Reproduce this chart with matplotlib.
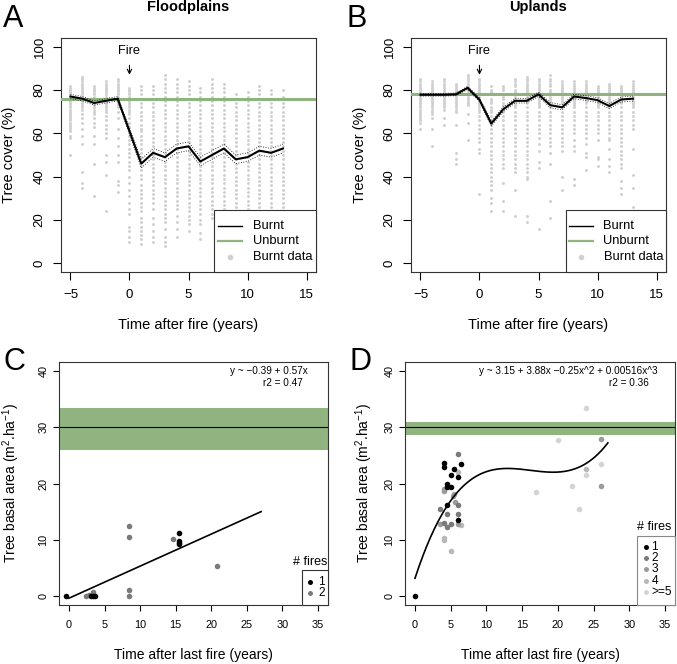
import numpy as np
import matplotlib
matplotlib.use('Agg')
import matplotlib.pyplot as plt
from matplotlib.patches import Rectangle
from matplotlib.lines import Line2D
from matplotlib.transforms import Affine2D

plt.rcParams['font.family'] = ['Liberation Sans', 'DejaVu Sans']
plt.rcParams['mathtext.fontset'] = 'custom'
plt.rcParams['mathtext.rm'] = 'Liberation Sans'
plt.rcParams['mathtext.it'] = 'Liberation Sans:italic'

# ---------------- data ----------------
years = list(range(-5, 14))

flood_mean = [77, 76, 74, 75, 76, 61, 46, 51, 49, 53, 54, 47, 50, 53, 48, 49, 52, 51, 53]
flood_lo = [76, 75, 73, 74, 75, 59.5, 44, 49, 47, 51, 52, 45, 48, 51, 46, 47, 50, 49, 51]
flood_hi = [78, 77, 75, 76, 77, 62.5, 48, 53, 51, 55, 56, 49, 52, 55, 50, 51, 54, 53, 55]
flood_unburnt = 76

upland_mean = [77.8, 77.8, 77.8, 78, 81, 75.5, 64.5, 71, 75, 75, 78, 73, 72, 77, 76.3, 75.3, 72.6, 75.6, 76]
upland_lo = [77.2, 77.2, 77.2, 77.4, 80.3, 74.6, 63.4, 69.9, 74, 74, 77, 71.8, 70.8, 76, 75.2, 74.2, 71.4, 74.4, 74.9]
upland_hi = [78.4, 78.4, 78.4, 78.6, 81.7, 76.4, 65.6, 72.1, 76, 76, 79, 74.2, 73.2, 78, 77.4, 76.4, 73.8, 76.8, 77.1]
upland_unburnt = 78

flood_dots = [
    "82 81 80 79 78 77 76 75 74 73 72 71 70 69 68 67 66 65 64 63 62 61 59 58 50",
    "86 85 84 83 82 81 80 79 78 77 76 75 74 73 72 71 69 67 65 62 59 55 42 37 35",
    "82 81 80 79 78 77 76 75 74 73 72 71 70 69 67 65 63 59 55 46 31",
    "84 83 82 81 80 79 78 77 76 75 74 73 72 71 70 68 66 64 62 60 58 50 47 41 24",
    "85 84 83 82 81 80 79 78 77 76 75 74 73 72 70 67 62 58 54 50 47 38 36 33",
    "81 80 79 78 77 76 75 74 73 72 71 70 69 67 65 63 61 59 57 55 53 51 49 47 45 43 40 37 34 31 28 25 23 17 15 12 10",
    "82 80 78 76 74 72 70 68 66 64 62 61 59 57 55 53 51 49 47 45 43 41 39 36 34 32 30 28 26 24 21 19 17 15 13 11 9",
    "82 80 78 76 74 72 70 68 66 64 62 60 58 56 54 52 50 48 46 44 42 40 38 36 34 32 30 28 25 21 18 15 12 10",
    "87 85 83 81 79 77 75 73 71 69 67 65 63 61 59 57 55 53 51 49 47 45 43 41 39 37 35 33 31 29 27 25 23 21 19 16 12 10 8",
    "85 83 81 79 77 75 73 71 69 67 65 63 61 59 57 55 53 51 49 47 45 43 41 39 37 35 33 31 29 27 25 22 19 16 12",
    "84 82 80 78 76 74 72 70 68 66 64 62 60 58 56 54 52 50 48 46 44 42 40 38 36 34 32 30 28 26 24 22 20 18 15",
    "81 79 77 75 73 71 69 67 65 63 61 59 57 55 53 51 49 47 45 43 41 39 37 35 33 31 29 27 25 23 20 18 14 11",
    "85 83 81 79 77 75 73 71 69 67 65 63 61 59 57 55 53 51 49 47 45 43 41 39 37 35 33 31 29 27 25 23 21",
    "83 81 79 77 75 73 71 69 67 65 63 61 59 57 55 53 51 49 47 45 43 41 39 37 35 33 31 29 27 25",
    "78 76 74 72 70 68 66 64 62 60 58 56 54 52 50 48 46 44 42 40 38 36 34 32 30 28 26 24 22",
    "79 77 75 73 71 69 67 65 63 61 59 57 55 53 51 49 47 45 43 41 39 37 35 33 31 29 27 25 22 20",
    "82 80 78 76 74 72 70 68 66 64 62 60 58 56 54 52 50 48 46 44 42 40 38 36 34 32 30 28 26",
    "80 78 76 74 72 70 68 66 64 62 60 58 56 54 52 50 48 46 44 42 40 38 36 34 32 30 28 26",
    "80 77 74 72 70 68 66 64 62 60 58 56 54 52 50 48 46 44 42 40 38 36 34 32 30 28 26",
]

upland_dots = [
    "85 84 83 82 81 80 79 78 77 76 75 74 73 72 71 70 69 68 67 66 65 62",
    "84 83 82 81 80 79 78 77 76 75 74 73 72 71 70 69 67 62 54",
    "85 84 83 82 81 80 79 78 77 76 75 74 73 72 71 67 64",
    "83 82 81 80 79 78 77 76 75 74 73 72 71 70 64 51 48 46",
    "87 86 85 84 83 82 81 80 79 78 77 76 75 74 73 69 65 57",
    "85 84 83 82 81 80 79 78 77 76 75 74 73 72 71 70 68 66 64 62 60 58 56 53 51 32",
    "82 80 79 78 76 75 74 72 71 70 68 66 64 62 60 58 56 54 52 50 48 46 44 42 40 38 36 34 30 28 24",
    "82 81 80 78 77 76 74 73 72 70 68 66 64 62 60 58 56 54 52 50 48 46 44 37 29 24",
    "85 84 83 82 80 79 78 77 76 74 73 72 70 68 66 64 62 60 58 56 54 52 50 48 46 44 42 34 22",
    "86 85 84 83 82 81 80 79 78 77 76 75 74 72 70 68 66 64 62 60 58 56 54 52 50 48 46 44 42 40 39 22 19",
    "85 84 83 82 81 80 79 78 77 76 75 74 73 72 70 68 66 64 62 60 58 55 52 47 44 16",
    "87 85 84 83 82 80 79 78 77 76 75 74 72 70 68 66 64 62 60 58 56 54 51 46 29 21",
    "84 83 82 81 80 79 78 77 76 75 74 72 70 68 66 64 62 60 58 56 54 52 40 34",
    "84 83 82 81 80 79 78 77 76 75 74 73 72 70 68 66 64 62 60 57 54 52 39 36",
    "84 83 82 81 80 79 78 77 76 75 74 72 70 68 66 64 62 60 58 55 51 49 43",
    "82 81 80 79 78 77 76 75 74 73 72 70 68 66 64 62 60 57 49 48 45",
    "83 82 81 80 79 78 77 76 75 74 73 72 70 68 66 64 62 60 58 57 53 48 45 42",
    "82 81 80 79 78 77 76 75 74 72 70 68 66 64 62 60 58 56 54 52 50 48 46 44 38 35 32",
    "84 83 82 81 80 79 78 77 76 75 74 73 72 70 68 66 64 62 53 41 35 26",
]

# Panel C (floodplains basal area)
c_fires1_x = [-0.4, 3.1, 3.4, 3.6, 15.4, 15.5, 15.5, 15.5]
c_fires1_y = [0.0, 0.0, 0.0, 0.0, 11.2, 9.8, 9.5, 9.2]
c_fires2_x = [2.4, 2.8, 3.4, 3.4, 8.5, 8.5, 8.5, 8.5, 14.6, 20.8]
c_fires2_y = [0.0, 0.1, 0.3, 0.7, 12.4, 10.5, 1.0, 0.0, 10.1, 5.3]
c_coef = [-0.39, 0.57]
c_band = (26.0, 33.5)

# Panel D (uplands basal area)
d_fires1_x = [0.0, 4.0, 4.0, 5.5, 6.5, 5.0, 6.0, 4.5, 4.5, 5.0, 4.5, 6.0]
d_fires1_y = [0.0, 23.6, 22.9, 22.5, 23.4, 21.6, 21.1, 20.0, 19.3, 19.3, 16.2, 13.6]
d_fires2_x = [6.0, 3.5, 4.5, 6.0, 6.0, 4.0, 5.0, 4.5]
d_fires2_y = [25.3, 15.5, 14.6, 14.6, 16.1, 13.0, 12.8, 12.2]
d_fires3_x = [4.0, 4.0, 5.5, 5.3, 5.6, 3.5, 6.0, 26.0, 26.0]
d_fires3_y = [19.0, 18.7, 18.2, 17.8, 16.8, 12.8, 12.8, 28.0, 19.6]
d_fires4_x = [4.0, 4.0, 5.0, 6.5, 6.0, 24.0]
d_fires4_y = [10.3, 10.0, 8.0, 12.6, 22.1, 22.5]
d_fires5_x = [24.0, 20.0, 26.0, 22.0, 17.0, 23.0, 24.0]
d_fires5_y = [33.5, 27.8, 23.4, 19.6, 18.5, 15.5, 21.6]
d_coef = [3.15, 3.88, -0.25, 0.00516]
d_band = (28.6, 30.9)

fire_labels = ["1", "2", "3", "4", ">=5"]
fire_colors = ["#000000", "#7a7a7a", "#9a9a9a", "#b8b8b8", "#d4d4d4"]

GREEN = '#8fb47f'
DOT = '#d0d0d0'

# ---------------- figure ----------------
W, H = 677, 664
fig = plt.figure(figsize=(W / 100, H / 100), dpi=100)
PX = Affine2D().scale(1.0 / W, -1.0 / H).translate(0, 1) + fig.transFigure


def add_axes_px(l, t, r, b):
    return fig.add_axes([l / W, 1 - b / H, (r - l) / W, (b - t) / H])


def ftext(x, y, s, **kw):
    return fig.text(x, y, s, transform=PX, **kw)


def style(ax, xlim, ylim, xticks, yticks, size, tlen, xpad, ypad):
    ax.set_xlim(xlim)
    ax.set_ylim(ylim)
    ax.set_xticks(xticks)
    ax.set_yticks(yticks)
    ax.tick_params(direction='out', length=tlen, width=0.8, labelsize=size, colors='black')
    ax.tick_params(axis='x', pad=xpad)
    ax.tick_params(axis='y', pad=ypad, labelrotation=90)
    for lab in ax.get_yticklabels():
        lab.set_verticalalignment('center')
    for sp in ax.spines.values():
        sp.set_linewidth(0.8)
        sp.set_color('#333333')


def top_panel(rect, dots, mean, lo, hi, unburnt, title, letter, lx, tx, legend_box, legend_line_x, legend_text_x):
    l, t, r, b = rect
    ax = add_axes_px(l, t, r, b)
    for yr, col in zip(years, dots):
        vals = [float(v) for v in col.split()]
        ax.scatter([yr] * len(vals), vals, s=4.5, color=DOT, linewidths=0, zorder=2)
    ax.axhline(unburnt, color=GREEN, lw=2.2, zorder=3)
    ax.plot(years, lo, color='black', lw=0.6, ls=(0, (1, 2)), zorder=4)
    ax.plot(years, hi, color='black', lw=0.6, ls=(0, (1, 2)), zorder=4)
    ax.plot(years, mean, color='black', lw=1.5, zorder=5)
    ax.annotate('Fire', xy=(0, 87), xytext=(0, 98), ha='center', va='center', fontsize=9.2,
                arrowprops=dict(arrowstyle='->', lw=0.8, color='black', shrinkA=4, shrinkB=0,
                                mutation_scale=8))
    style(ax, (-5.8, 15.8), (-4, 104), [-5, 0, 5, 10, 15], [0, 20, 40, 60, 80, 100], 9.5, 5.5, 7, 5.5)
    ftext((l + r) / 2, 11.5, title, ha='center', va='baseline', fontsize=10.5, fontweight='bold')
    ftext(lx, 26.7, letter, ha='center', va='baseline', fontsize=22)
    ftext(tx, (t + b) / 2, 'Tree cover (%)', ha='center', va='center', rotation=90, fontsize=10.5)
    ftext((l + r) / 2, 325, 'Time after fire (years)', ha='center', va='center', fontsize=10.5)
    # legend
    bx0, by0, bx1, by1 = legend_box
    fig.add_artist(Rectangle((bx0, by0), bx1 - bx0, by1 - by0, transform=PX, fc='white', ec='#333333',
                             lw=0.8, zorder=10))
    x0, x1 = legend_line_x
    rows = [226, 241, 257]
    fig.add_artist(Line2D([x0, x1], [rows[0], rows[0]], transform=PX, color='black', lw=1.0, zorder=11))
    fig.add_artist(Line2D([x0, x1], [rows[1], rows[1]], transform=PX, color=GREEN, lw=1.6, zorder=11))
    fig.add_artist(Line2D([(x0 + x1) / 2], [rows[2]], transform=PX, marker='o', ms=4, mew=0, color=DOT, zorder=11))
    for lab, yy in zip(['Burnt', 'Unburnt', 'Burnt data'], rows):
        ftext(legend_text_x, yy, lab, ha='left', va='center', fontsize=9.3, zorder=12)
    return ax


top_panel((61, 38, 316, 272), flood_dots, flood_mean, flood_lo, flood_hi, flood_unburnt,
          'Floodplains', 'A', 13.5, 9, (214, 210, 316, 272), (218, 242), 253)
top_panel((411, 38, 666, 272), upland_dots, upland_mean, upland_lo, upland_hi, upland_unburnt,
          'Uplands', 'B', 357, 360, (566, 210, 666, 272), (569, 593), 603.5)


def bottom_panel(rect, band, coef, groups, letter, lx, tx, eq1, eq1x, r2, r2x, leg):
    l, t, r, b = rect
    ax = add_axes_px(l, t, r, b)
    ax.axhspan(band[0], band[1], color=GREEN, lw=0, zorder=1)
    ax.axhline(30, color='black', lw=0.8, zorder=2)
    for gx, gy, c in groups:
        ax.scatter(gx, gy, s=16, color=c, linewidths=0, zorder=3)
    xf = np.linspace(0, 27, 200)
    yf = sum(cf * xf ** i for i, cf in enumerate(coef))
    ax.plot(xf, yf, color='black', lw=1.2, zorder=4)
    style(ax, (-1.4, 36.4), (-1.6, 41.6), list(range(0, 40, 5)), [0, 10, 20, 30, 40], 7.8, 4.5, 6, 3)
    ftext(lx, 369.5, letter, ha='center', va='baseline', fontsize=22)
    ftext(tx, (t + b) / 2, 'Tree basal area (m$^2$.ha$^{-1}$)', ha='center', va='center', rotation=90,
          fontsize=10)
    ftext((l + r) / 2, 655, 'Time after last fire (years)', ha='center', va='center', fontsize=10)
    ftext(eq1x, 371, eq1, ha='center', va='center', fontsize=7.2)
    ftext(r2x, 383.5, r2, ha='center', va='center', fontsize=7.2)
    # legend
    (tx0, ty), (bx0, by0, bx1, by1), dotx, textx, rows, n, ec = leg
    ftext(tx0, ty, '# fires', ha='center', va='center', fontsize=9)
    fig.add_artist(Rectangle((bx0, by0), bx1 - bx0, by1 - by0, transform=PX, fc='white', ec=ec,
                             lw=0.8, zorder=10))
    for i in range(n):
        fig.add_artist(Line2D([dotx], [rows[i]], transform=PX, marker='o', ms=3.6, mew=0,
                              color=fire_colors[i], zorder=11))
        ftext(textx, rows[i], fire_labels[i], ha='left', va='center', fontsize=8.6, zorder=12)
    return ax


bottom_panel((59, 362, 328, 605), c_band, c_coef,
             [(c_fires2_x, c_fires2_y, fire_colors[1]), (c_fires1_x, c_fires1_y, fire_colors[0])],
             'C', 14, 11, 'y ~ \u22120.39 + 0.57x', 268.5, 'r2 = 0.47', 283,
             ((309.7, 562.3), (302.3, 570, 328, 605), 310, 318.5, [582, 593], 2, '#333333'))

bottom_panel((405, 362, 675, 605), d_band, d_coef,
             [(d_fires5_x, d_fires5_y, fire_colors[4]), (d_fires4_x, d_fires4_y, fire_colors[3]),
              (d_fires3_x, d_fires3_y, fire_colors[2]), (d_fires2_x, d_fires2_y, fire_colors[1]),
              (d_fires1_x, d_fires1_y, fire_colors[0])],
             'D', 361, 364, 'y ~ 3.15 + 3.88x \u22120.25x^2 + 0.00516x^3', 568.5, 'r2 = 0.36', 629,
             ((654, 527), (637, 535.7, 675, 605), 646, 651.5, [547, 558.3, 569.3, 580.7, 591.7], 5, '#888888'))

fig.savefig('out.png', dpi=100)
